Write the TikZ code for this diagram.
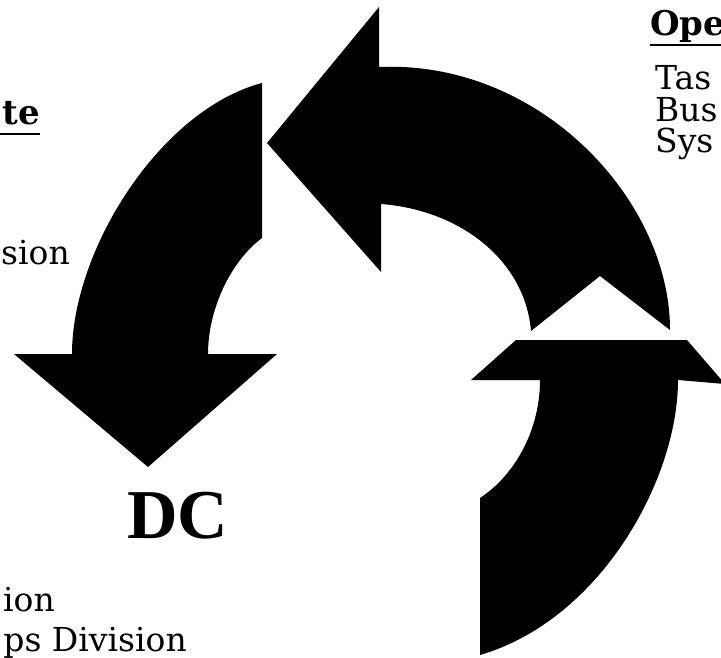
\documentclass[tikz,border=0pt]{standalone}
\usepackage{fontspec}
\setmainfont{Liberation Serif}
\newfontfamily\bodyfont{DejaVu Serif}
\begin{document}
\begin{tikzpicture}[x=1pt,y=-1pt,
  blackshape/.style={fill=black,draw=none},
  head/.style={inner sep=0pt,font=\bodyfont\fontsize{34}{38}\selectfont\bfseries},
  body/.style={inner sep=0pt,font=\bodyfont\fontsize{33}{38}\selectfont},
  uline/.style={line width=2pt}]
\useasboundingbox (0,0) rectangle (721,658);
\clip (0,0) rectangle (721,658);
% top arrow (pointing left)
\fill[blackshape] (267,143) -- (379,7) -- (379,67)
  .. controls (540,60) and (670,200) .. (670,330)
  -- (600,276) -- (531,331)
  .. controls (525,260) and (460,210) .. (381,204)
  -- (381,272) -- cycle;
% left arrow (pointing down)
\fill[blackshape] (262,83) -- (262,238)
  .. controls (230,262) and (208,310) .. (208,354)
  -- (277,354) -- (148,467) -- (14,354) -- (72,354)
  .. controls (72,250) and (160,110) .. (262,83) -- cycle;
% bottom arrow (pointing up)
\fill[blackshape] (471,380) -- (516,340) -- (687,340) -- (725,384) -- (678,380)
  .. controls (678,480) and (600,620) .. (480,655)
  -- (480,498)
  .. controls (515,475) and (540,430) .. (540,380) -- cycle;
% texts
\node[head,anchor=base east] (te) at (40,125) {te};
\coordinate (teL) at (0,134);
\draw[uline] (teL) -- (te.east |- teL);
\node[body,anchor=base east] (sion) at (70,265) {sion};
\node[head,anchor=base west] (ope) at (650,36) {Ope};
\coordinate (opeR) at (721,45);
\draw[uline] (ope.west |- opeR) -- (opeR);
\node[body,anchor=base west] (tas) at (655,90) {Tas};
\node[body,anchor=base west] (bus) at (655,122) {Bus};
\node[body,anchor=base west] (sys) at (655,153) {Sys};
\node[inner sep=0pt,anchor=base west,font=\fontsize{70}{70}\selectfont\bfseries] (dc) at (127,538) {DC};
\node[body,anchor=base east] (ion) at (55,611) {ion};
\node[body,anchor=base east] (psdiv) at (187,651) {ps Division};
\end{tikzpicture}
\end{document}
